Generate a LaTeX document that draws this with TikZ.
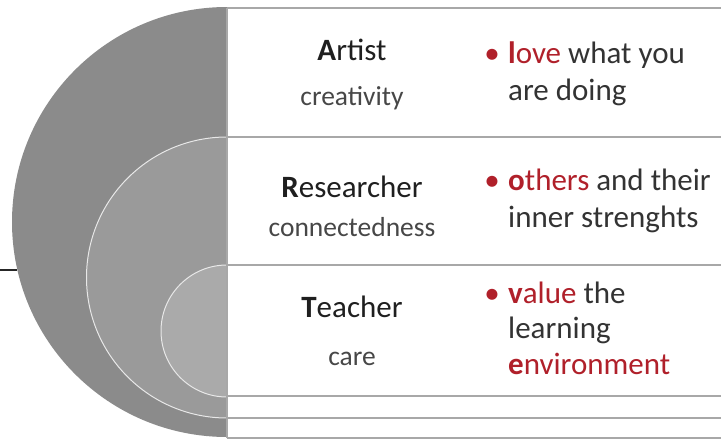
\documentclass[tikz,border=0pt]{standalone}
\usepackage{fontspec}
\setmainfont{Carlito}
\definecolor{redtxt}{HTML}{B0202A}
\definecolor{diskA}{HTML}{8B8B8B}
\definecolor{diskB}{HTML}{9A9A9A}
\definecolor{diskC}{HTML}{AAAAAA}
\definecolor{ruleC}{HTML}{A8A8A8}
\begin{document}
\begin{tikzpicture}[x=1pt,y=-1pt,
  title/.style={anchor=base,font=\fontsize{31}{37}\selectfont,text=black!88,inner sep=0pt},
  sub/.style={anchor=base,font=\fontsize{27.5}{33}\selectfont,text=black!72,inner sep=0pt},
  rtext/.style={anchor=base west,font=\fontsize{31}{37}\selectfont,text=black!80,inner sep=0pt},
  bul/.style={anchor=base,font=\fontsize{31}{37}\selectfont,text=redtxt,inner sep=0pt},
  tablerule/.style={draw=ruleC,line width=1.5pt},
  ringline/.style={draw=white!82!gray,line width=1pt}]
\useasboundingbox (0,0) rectangle (721,439);
% half disks
\begin{scope}
  \clip (0,0) rectangle (227,439);
  \fill[diskA] (227,222) circle[radius=215];
  \filldraw[fill=diskB,ringline] (227,277.5) circle[radius=140.5];
  \filldraw[fill=diskC,ringline] (227,331) circle[radius=66];
\end{scope}
% connector stub on the left
\coordinate (stubL) at (0,270);
\coordinate (stubR) at (17,270);
\draw[black!85,line width=2pt] (stubL) -- (stubR);
% table rules
\draw[tablerule] (227,8) -- (721,8);
\draw[tablerule] (227,137) -- (721,137);
\draw[tablerule] (227,265) -- (721,265);
\draw[tablerule] (227,396) -- (721,396);
\draw[tablerule] (227,418) -- (721,418);
\draw[tablerule] (227,438) -- (721,438);
\draw[tablerule] (227,8) -- (227,438);
% titles
\node[title] (artist) at (352,60) {\textbf{A}rtist};
\node[sub] (creat) at (352,105) {creativity};
\node[title] (research) at (352,197) {\textbf{R}esearcher};
\node[sub] (connect) at (352,236) {connectedness};
\node[title] (teacher) at (352,317) {\textbf{T}eacher};
\node[sub] (care) at (352,365) {care};
% bullets
\node[bul] (b1) at (492,63) {•};
\node[bul] (b2) at (492,190) {•};
\node[bul] (b3) at (492,303) {•};
% right texts
\node[rtext] (r1a) at (508,63) {\textcolor{redtxt}{\textbf{l}ove} what you};
\node[rtext] (r1b) at (508,100) {are doing};
\node[rtext] (r2a) at (508,190) {\textcolor{redtxt}{\textbf{o}thers} and their};
\node[rtext] (r2b) at (508,227) {inner strenghts};
\node[rtext] (r3a) at (508,303) {\textcolor{redtxt}{\textbf{v}alue} the};
\node[rtext] (r3b) at (508,338) {learning};
\node[rtext] (r3c) at (508,374) {\textcolor{redtxt}{\textbf{e}nvironment}};
\end{tikzpicture}
\end{document}
